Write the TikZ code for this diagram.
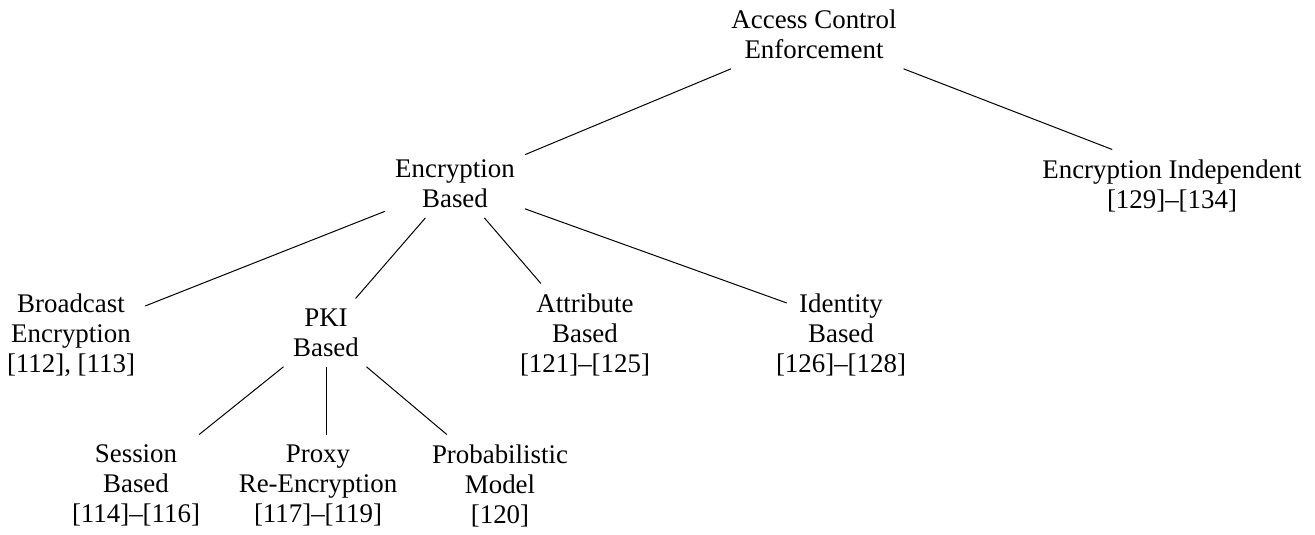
\documentclass[tikz,border=0pt]{standalone}
\usepackage{fontspec}
\setmainfont{Liberation Serif}
\tikzset{
  tn/.style={align=center, anchor=north, inner sep=10pt, font=\fontsize{26.9}{30}\selectfont},
  br/.style={line width=1pt}
}
\begin{document}
\begin{tikzpicture}[x=1pt,y=-1pt]
\useasboundingbox (0,0) rectangle (1315,535);
\node[tn] (root) at (814,-0.5) {Access Control\\Enforcement};
\node[tn] (eb) at (455,149.5) {Encryption\\Based};
\node[tn] (ei) at (1172,149.5) {Encryption Independent\\{}[129]--[134]};
\node[tn] (be) at (71,283.5) {Broadcast\\Encryption\\{}[112], [113]};
\node[tn] (pki) at (326,298.5) {PKI\\Based};
\node[tn] (ab) at (585,283.5) {Attribute\\Based\\{}[121]--[125]};
\node[tn] (ib) at (841,283.5) {Identity\\Based\\{}[126]--[128]};
\node[tn] (sb) at (136,434.5) {Session\\Based\\{}[114]--[116]};
\node[tn] (pr) at (318,434.5) {Proxy\\Re-Encryption\\{}[117]--[119]};
\node[tn] (pm) at (500,434.5) {Probabilistic\\Model\\{}[120]};
\draw[br] (root) -- (eb);
\draw[br] (root) -- ([xshift=80pt]ei.north west);
\draw[br] (eb) -- (be);
\draw[br] (eb) -- (pki);
\draw[br] (eb) -- (ab);
\draw[br] (eb) -- ([shift={(21,19.5)}]ib.north west);
\draw[br] (pki) -- (sb);
\draw[br] (pki) -- (pki |- pr.north);
\draw[br] (pki) -- ([xshift=25pt]pm.north west);
\end{tikzpicture}
\end{document}
